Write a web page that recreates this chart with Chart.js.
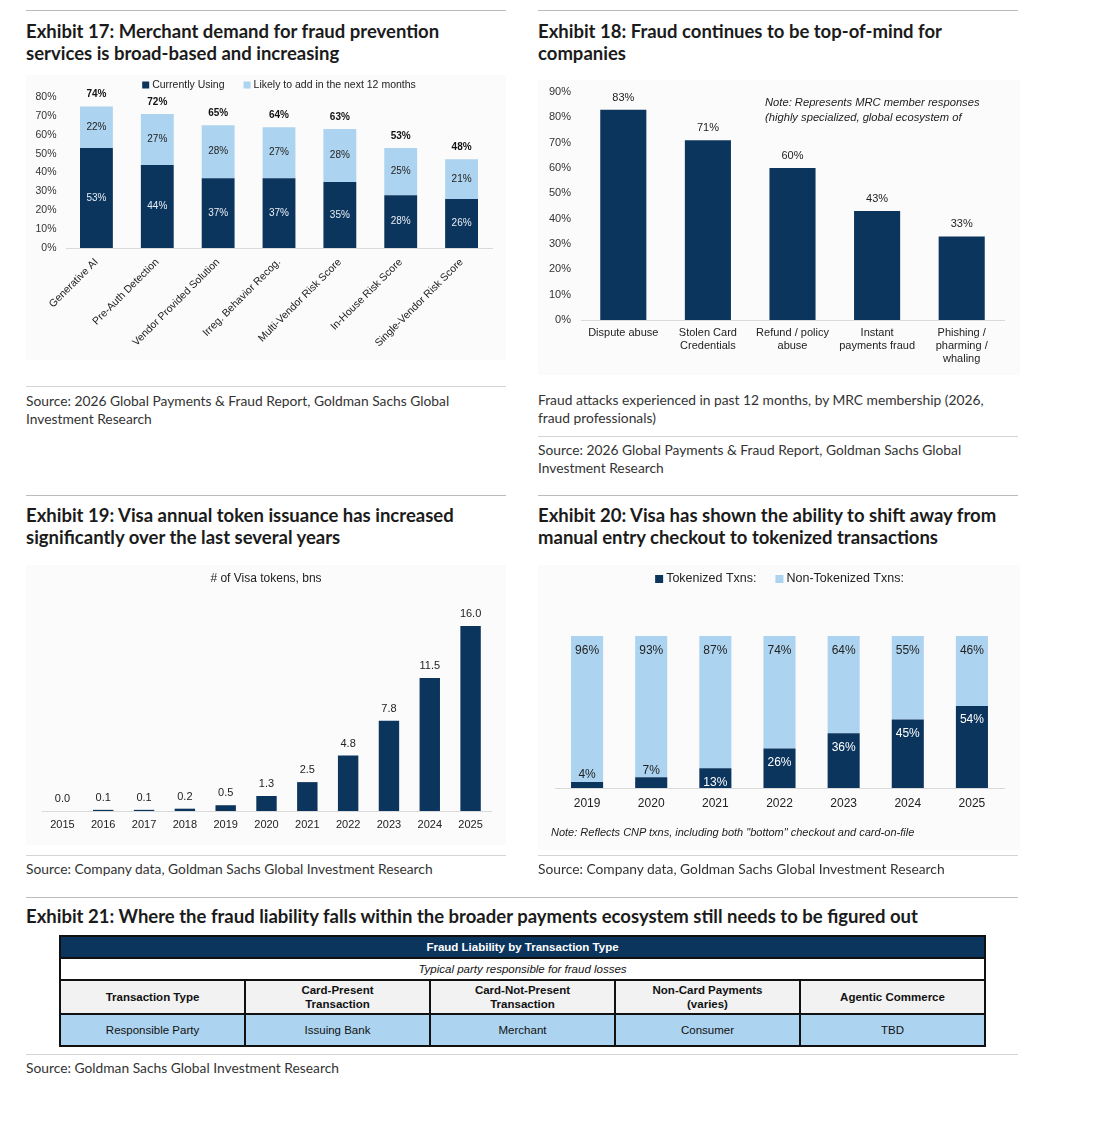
<!DOCTYPE html>
<html>
<head>
<meta charset="utf-8">
<script src="https://cdn.jsdelivr.net/npm/chart.js@4.4.1/dist/chart.umd.min.js"></script>
<style>
body{margin:0;background:#fff;width:1104px;height:1135px;position:relative;overflow:hidden}
.rule{position:absolute;height:1px;background:#d4d4d4}
.title{position:absolute;font-family:Lato,sans-serif;font-weight:bold;font-size:18.5px;line-height:22px;color:#1b1b1b;white-space:nowrap}
.src{position:absolute;font-family:Lato,sans-serif;font-size:13.8px;line-height:17.5px;color:#333;white-space:nowrap}
.note{position:absolute;font-family:"Liberation Sans",Arial,sans-serif;font-style:italic;font-size:11.2px;line-height:15px;color:#222;white-space:nowrap}
canvas{position:absolute;background:#fbfbfb}
#liab{position:absolute;left:59px;top:935px;width:927px;border-collapse:collapse;border:2px solid #000;font-family:"Liberation Sans",Arial,sans-serif;font-size:11.5px;color:#111;text-align:center;table-layout:fixed}
#liab td{border:2px solid #111;padding:0;line-height:14px}
#liab .hd td{background:#0c355e;color:#fff;font-weight:bold;height:20px}
#liab .sub td{background:#fff;font-style:italic;height:20px}
#liab .cols td{background:#f2f2f2;font-weight:bold;height:32px}
#liab .vals td{background:#acd3ef;height:30px}
</style>
</head>
<body>
<div class="rule" style="left:26px;top:10px;width:480px;background:#bbb"></div>
<div class="rule" style="left:538px;top:10px;width:480px;background:#bbb"></div>
<div class="title" style="left:26px;top:20px">Exhibit 17: Merchant demand for fraud prevention<br>services is broad-based and increasing</div>
<div class="title" style="left:538px;top:20px">Exhibit 18: Fraud continues to be top-of-mind for<br>companies</div>

<canvas id="c17" width="480" height="285" style="left:26px;top:75px"></canvas>
<canvas id="c18" width="482" height="295" style="left:538px;top:80px"></canvas>
<div class="note" style="left:765px;top:95px">Note: Represents MRC member responses<br>(highly specialized, global ecosystem of</div>

<div class="rule" style="left:26px;top:386px;width:480px"></div>
<div class="src" style="left:26px;top:392px">Source: 2026 Global Payments &amp; Fraud Report, Goldman Sachs Global<br>Investment Research</div>
<div class="src" style="left:538px;top:391px">Fraud attacks experienced in past 12 months, by MRC membership (2026,<br>fraud professionals)</div>
<div class="rule" style="left:538px;top:436px;width:480px"></div>
<div class="src" style="left:538px;top:441px">Source: 2026 Global Payments &amp; Fraud Report, Goldman Sachs Global<br>Investment Research</div>

<div class="rule" style="left:26px;top:495px;width:480px;background:#bbb"></div>
<div class="rule" style="left:538px;top:495px;width:480px;background:#bbb"></div>
<div class="title" style="left:26px;top:504px">Exhibit 19: Visa annual token issuance has increased<br>significantly over the last several years</div>
<div class="title" style="left:538px;top:504px">Exhibit 20: Visa has shown the ability to shift away from<br>manual entry checkout to tokenized transactions</div>

<canvas id="c19" width="480" height="280" style="left:26px;top:565px"></canvas>
<div class="note" style="left:26px;width:480px;top:571px;text-align:center;font-style:normal;font-size:12px">&#35; of Visa tokens, bns</div>
<canvas id="c20" width="482" height="285" style="left:538px;top:565px"></canvas>
<div class="note" style="left:551px;top:825px;font-size:11px">Note: Reflects CNP txns, including both "bottom" checkout and card-on-file</div>

<div class="rule" style="left:26px;top:855px;width:480px"></div>
<div class="rule" style="left:538px;top:855px;width:480px"></div>
<div class="src" style="left:26px;top:860px">Source: Company data, Goldman Sachs Global Investment Research</div>
<div class="src" style="left:538px;top:860px">Source: Company data, Goldman Sachs Global Investment Research</div>

<div class="rule" style="left:26px;top:897px;width:992px;background:#bbb"></div>
<div class="title" style="left:26px;top:905px">Exhibit 21: Where the fraud liability falls within the broader payments ecosystem still needs to be figured out</div>
<table id="liab"></table>
<div class="rule" style="left:26px;top:1054px;width:992px"></div>
<div class="src" style="left:26px;top:1059px">Source: Goldman Sachs Global Investment Research</div>

<script>
// Exhibit 17
const services=['Generative AI','Pre-Auth Detection','Vendor Provided Solution','Irreg. Behavior Recog.','Multi-Vendor Risk Score','In-House Risk Score','Single-Vendor Risk Score'];
const currentlyUsing=[53,44,37,37,35,28,26];
const likelyToAdd=[22,27,28,27,28,25,21];
const serviceTotals=[74,72,65,64,63,53,48];
const pctTicks17=[0,10,20,30,40,50,60,70,80];

// Exhibit 18
const fraudTypes=['Dispute abuse',['Stolen Card','Credentials'],['Refund / policy','abuse'],['Instant','payments fraud'],['Phishing /','pharming /','whaling']];
const fraudShare=[83,71,60,43,33];

// Exhibit 19
const tokenYears=['2015','2016','2017','2018','2019','2020','2021','2022','2023','2024','2025'];
const visaTokens=[0.0,0.1,0.1,0.2,0.5,1.3,2.5,4.8,7.8,11.5,16.0];

// Exhibit 20
const txnYears=['2019','2020','2021','2022','2023','2024','2025'];
const tokenized=[4,7,13,26,36,45,54];
const nonTokenized=[96,93,87,74,64,55,46];

// Exhibit 21
const liabHeader='Fraud Liability by Transaction Type';
const liabSub='Typical party responsible for fraud losses';
const liabCols=['Transaction Type','Card-Present<br>Transaction','Card-Not-Present<br>Transaction','Non-Card Payments<br>(varies)','Agentic Commerce'];
const liabVals=['Responsible Party','Issuing Bank','Merchant','Consumer','TBD'];

const NAVY='#0c355e', LIGHT='#acd3ef';
const FONT='"Liberation Sans", Arial, sans-serif';
Chart.defaults.font.family=FONT;
Chart.defaults.color='#333';
Chart.defaults.animation=false;

function drawLegend(chart,y,size,box){
    const ctx=chart.ctx;
    ctx.save();
    ctx.font=size+'px '+FONT;
    ctx.textBaseline='middle';
    const items=chart.data.datasets.map(d=>({t:d.label,c:d.backgroundColor,w:ctx.measureText(d.label).width}));
    const gap=3,sep=19;
    const total=items.reduce((s,it)=>s+box+gap+it.w,0)+sep*(items.length-1);
    let x=(chart.chartArea.left+chart.chartArea.right)/2-total/2;
    items.forEach(it=>{
        ctx.fillStyle=it.c;ctx.fillRect(x,y-box/2,box,box);
        x+=box+gap;
        ctx.fillStyle='#222';ctx.fillText(it.t,x,y);
        x+=it.w+sep;
    });
    ctx.restore();
}

// pin an axis size and drop the label overhang padding so layout.padding rules
function fixedScale(size,key){return s=>{s[key]=size;s.paddingTop=0;s.paddingBottom=0;};}
const noGrid={display:false,drawTicks:false};

// ---- Exhibit 17
new Chart(document.getElementById('c17'),{
    type:'bar',
    data:{labels:services,datasets:[
        {label:'Currently Using',data:currentlyUsing,backgroundColor:NAVY},
        {label:'Likely to add in the next 12 months',data:likelyToAdd,backgroundColor:LIGHT}
    ]},
    options:{
        responsive:false,
        layout:{padding:{top:22,right:14,left:0,bottom:0}},
        datasets:{bar:{barPercentage:0.54,categoryPercentage:1}},
        plugins:{legend:{display:false},tooltip:{enabled:false}},
        scales:{
            x:{stacked:true,grid:noGrid,border:{display:true,color:'#d9d9d9'},
               ticks:{minRotation:45,maxRotation:45,padding:8,font:{size:10.5},color:'#222'},afterFit:fixedScale(112,'height')},
            y:{stacked:true,min:0,max:80,grid:noGrid,border:{display:false},
               afterBuildTicks:s=>{s.ticks=pctTicks17.map(v=>({value:v}));},
               ticks:{padding:9.5,font:{size:10.5},color:'#333',callback:v=>v+'%'},afterFit:fixedScale(40,'width')}
        }
    },
    plugins:[{id:'lbl17',afterDatasetsDraw(chart){
        const ctx=chart.ctx;
        ctx.save();
        ctx.textAlign='center';ctx.textBaseline='middle';
        ctx.font='10px '+FONT;
        chart.data.datasets.forEach((ds,i)=>{
            chart.getDatasetMeta(i).data.forEach((bar,j)=>{
                ctx.fillStyle=i===0?'#e8eef5':'#222';
                ctx.fillText(ds.data[j]+'%',bar.x,(bar.y+bar.base)/2);
            });
        });
        ctx.font='bold 10px '+FONT;ctx.fillStyle='#111';
        chart.getDatasetMeta(1).data.forEach((bar,j)=>{
            ctx.fillText(serviceTotals[j]+'%',bar.x,bar.y-12);
        });
        ctx.restore();
        drawLegend(chart,10,10.5,7);
    }}]
});

// ---- Exhibit 18
new Chart(document.getElementById('c18'),{
    type:'bar',
    data:{labels:fraudTypes,datasets:[{label:'Share',data:fraudShare,backgroundColor:NAVY}]},
    options:{
        responsive:false,
        layout:{padding:{top:12,right:16,left:0,bottom:0}},
        datasets:{bar:{barPercentage:0.545,categoryPercentage:1}},
        plugins:{legend:{display:false},tooltip:{enabled:false}},
        scales:{
            x:{grid:noGrid,border:{display:true,color:'#d9d9d9'},
               ticks:{padding:6,font:{size:11},color:'#222',maxRotation:0},afterFit:fixedScale(55,'height')},
            y:{min:0,max:90,grid:noGrid,border:{display:false},
               ticks:{stepSize:10,padding:10,font:{size:11},color:'#333',callback:v=>v+'%'},afterFit:fixedScale(43,'width')}
        }
    },
    plugins:[{id:'lbl18',afterDatasetsDraw(chart){
        const ctx=chart.ctx;
        ctx.save();
        ctx.textAlign='center';ctx.textBaseline='middle';
        ctx.font='11px '+FONT;ctx.fillStyle='#222';
        chart.getDatasetMeta(0).data.forEach((bar,j)=>{
            ctx.fillText(fraudShare[j]+'%',bar.x,bar.y-12);
        });
        ctx.restore();
    }}]
});

// ---- Exhibit 19
new Chart(document.getElementById('c19'),{
    type:'bar',
    data:{labels:tokenYears,datasets:[{label:'# of Visa tokens, bns',data:visaTokens,backgroundColor:NAVY}]},
    options:{
        responsive:false,
        layout:{padding:{top:38,right:15,left:16,bottom:0}},
        datasets:{bar:{barPercentage:0.5,categoryPercentage:1}},
        plugins:{legend:{display:false},tooltip:{enabled:false}},
        scales:{
            x:{grid:noGrid,border:{display:true,color:'#d9d9d9'},
               ticks:{padding:7,font:{size:11},color:'#222',maxRotation:0},afterFit:fixedScale(34,'height')},
            y:{display:false,min:0,max:18}
        }
    },
    plugins:[{id:'lbl19',afterDatasetsDraw(chart){
        const ctx=chart.ctx;
        ctx.save();
        ctx.textAlign='center';ctx.textBaseline='middle';
        ctx.font='11px '+FONT;ctx.fillStyle='#222';
        chart.getDatasetMeta(0).data.forEach((bar,j)=>{
            ctx.fillText(visaTokens[j].toFixed(1),bar.x,bar.y-12);
        });
        ctx.restore();
    }}]
});

// ---- Exhibit 20
new Chart(document.getElementById('c20'),{
    type:'bar',
    data:{labels:txnYears,datasets:[
        {label:'Tokenized Txns:',data:tokenized,backgroundColor:NAVY},
        {label:'Non-Tokenized Txns:',data:nonTokenized,backgroundColor:LIGHT}
    ]},
    options:{
        responsive:false,
        layout:{padding:{top:71,right:16,left:17,bottom:0}},
        datasets:{bar:{barPercentage:0.5,categoryPercentage:1}},
        plugins:{legend:{display:false},tooltip:{enabled:false}},
        scales:{
            x:{stacked:true,grid:noGrid,border:{display:true,color:'#d9d9d9'},
               ticks:{padding:8,font:{size:12},color:'#222',maxRotation:0},afterFit:fixedScale(62,'height')},
            y:{stacked:true,display:false,min:0,max:100}
        }
    },
    plugins:[{id:'lbl20',afterDatasetsDraw(chart){
        const ctx=chart.ctx;
        ctx.save();
        ctx.textAlign='center';ctx.textBaseline='middle';
        ctx.font='12px '+FONT;
        chart.getDatasetMeta(0).data.forEach((bar,j)=>{
            if(tokenized[j]<10){ctx.fillStyle='#222';ctx.fillText(tokenized[j]+'%',bar.x,bar.y-7);}
            else{ctx.fillStyle='#fff';ctx.fillText(tokenized[j]+'%',bar.x,bar.y+14);}
        });
        ctx.fillStyle='#222';
        chart.getDatasetMeta(1).data.forEach((bar,j)=>{
            ctx.fillText(nonTokenized[j]+'%',bar.x,bar.y+15);
        });
        ctx.restore();
        drawLegend(chart,14,12.5,8);
    }}]
});

// ---- Exhibit 21 table
const tbl=document.getElementById('liab');
tbl.innerHTML=
    '<tr class="hd"><td colspan="5">'+liabHeader+'</td></tr>'+
    '<tr class="sub"><td colspan="5">'+liabSub+'</td></tr>'+
    '<tr class="cols">'+liabCols.map(c=>'<td>'+c+'</td>').join('')+'</tr>'+
    '<tr class="vals">'+liabVals.map(c=>'<td>'+c+'</td>').join('')+'</tr>';
</script>
</body>
</html>
